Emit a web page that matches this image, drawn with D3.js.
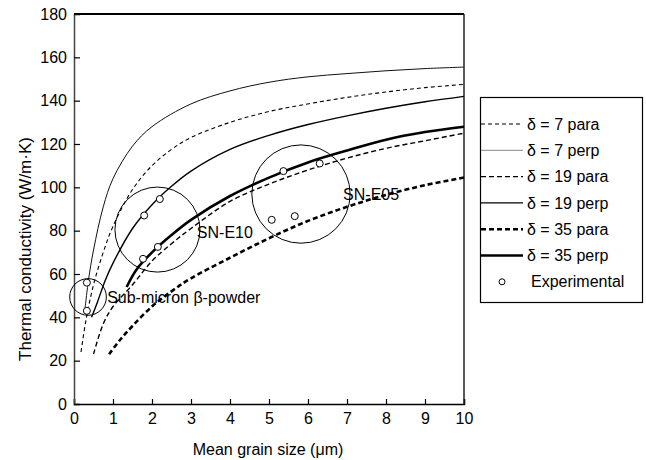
<!doctype html>
<html>
<head>
<script src="https://d3js.org/d3.v7.min.js"></script>
<style>
  body { margin: 0; background: #fff; }
  text { font-family: "Liberation Sans", Arial, sans-serif; fill: #000; }
</style>
</head>
<body>
<svg width="646" height="460"></svg>
<script>
// series values (grain size in um, conductivity in W/m.K)
var d7paraX  = [0.18, 0.3, 0.5, 0.75, 1, 1.5, 2, 2.5, 3, 4, 5, 6, 7, 8, 9, 10];
var d7paraY  = [24, 38, 55, 70, 82, 99, 110, 117.5, 123, 130, 135, 138.5, 141.5, 144, 146, 147.5];
var d7perpX  = [0.27, 0.37, 0.5, 0.75, 1, 1.5, 2, 3, 4, 5, 6, 7, 8, 9, 10];
var d7perpY  = [42, 57, 71, 91, 104, 119, 128, 138.5, 144.5, 148.5, 151, 152.5, 153.8, 154.8, 155.5];
var d19paraX = [0.5, 0.75, 1, 1.5, 2, 2.5, 3, 4, 5, 6, 7, 8, 9, 10];
var d19paraY = [23, 37, 45, 55, 66, 74, 81, 93.5, 101.5, 108, 113.5, 118, 121.5, 125];
var d19perpX = [0.45, 0.6, 0.8, 1, 1.5, 2, 2.5, 3, 4, 5, 6, 7, 8, 9, 10];
var d19perpY = [40, 47, 57, 65, 81, 92, 100.5, 107.5, 117.5, 124, 129, 133, 136.5, 139.5, 142];
var d35paraX = [0.9, 1.2, 1.5, 2, 2.5, 3, 4, 5, 6, 7, 8, 9, 10];
var d35paraY = [23, 30, 36, 45, 52, 58, 67.5, 76.5, 84.5, 91, 96.5, 101, 104.5];
var d35perpX = [1.35, 1.6, 2, 2.5, 3, 4, 5, 6, 7, 8, 9, 10];
var d35perpY = [54, 62, 70, 78, 85, 96, 104.5, 111.5, 117, 122, 125.5, 128];

var expX = [0.33, 0.33, 1.8, 2.2, 1.77, 2.15, 5.07, 5.66, 5.37, 6.3];
var expY = [56, 43, 87, 94.6, 67, 72.5, 85, 86.7, 107.5, 111];

var seriesNames = ["δ = 7 para", "δ = 7 perp", "δ = 19 para", "δ = 19 perp", "δ = 35 para", "δ = 35 perp"];

// sample groups: label, circle centre and radius (in grain-size units)
var groupNames = ["Sub-micron β-powder", "SN-E10", "SN-E05"];
var groupCx = [0.36, 2.14, 5.82];
var groupCy = [49.4, 80.5, 96.9];
var groupR  = [0.47, 1.09, 1.26];
var groupLabelX = [0.85, 3.15, 6.9];
var groupLabelY = [46.6, 76.6, 94];

var xTicks = [0, 1, 2, 3, 4, 5, 6, 7, 8, 9, 10];
var yTicks = [0, 20, 40, 60, 80, 100, 120, 140, 160, 180];

var styles = [
  { w: 1.1, dash: "4,3", color: "#000", legendColor: "#000" },
  { w: 1, dash: null, color: "#111", legendColor: "#888" },
  { w: 1.4, dash: "5,3", color: "#000", legendColor: "#000" },
  { w: 1.4, dash: null, color: "#000", legendColor: "#000" },
  { w: 2.6, dash: "5,3", color: "#000", legendColor: "#000" },
  { w: 2.6, dash: null, color: "#000", legendColor: "#000" }
];

var xs = [d7paraX, d7perpX, d19paraX, d19perpX, d35paraX, d35perpX];
var ys = [d7paraY, d7perpY, d19paraY, d19perpY, d35paraY, d35perpY];

var svg = d3.select("svg");

var x = d3.scaleLinear().domain([0, 10]).range([74, 464]);
var y = d3.scaleLinear().domain([0, 180]).range([404, 14]);

// axes with inward ticks
var gx = svg.append("g").attr("transform", "translate(0," + y(0) + ")")
  .call(d3.axisBottom(x).tickValues(xTicks).tickSize(-5).tickPadding(9).tickFormat(d3.format("d")));
var gy = svg.append("g").attr("transform", "translate(" + x(0) + ",0)")
  .call(d3.axisLeft(y).tickValues(yTicks).tickSize(-6).tickPadding(7));
gx.select(".domain").attr("stroke", "#000").attr("stroke-width", 1.5);
gy.select(".domain").attr("stroke", "#444").attr("stroke-width", 1.5);
gx.selectAll(".tick line").attr("stroke-width", 1.2);
gy.selectAll(".tick line").attr("stroke-width", 1.2);
gx.selectAll("text").attr("font-size", 16).attr("font-family", "Liberation Sans, Arial, sans-serif");
gy.selectAll("text").attr("font-size", 16).attr("font-family", "Liberation Sans, Arial, sans-serif");

// top and right frame
svg.append("line").attr("x1", x(0)).attr("x2", x(10)).attr("y1", y(180)).attr("y2", y(180))
  .attr("stroke", "#000").attr("stroke-width", 2.2);
svg.append("line").attr("x1", x(10)).attr("x2", x(10)).attr("y1", y(180)).attr("y2", y(0))
  .attr("stroke", "#222").attr("stroke-width", 1.5);

// axis titles
svg.append("text").attr("x", 268).attr("y", 455).attr("text-anchor", "middle")
  .attr("font-size", 16).text("Mean grain size (μm)");
svg.append("text").attr("transform", "translate(31,249) rotate(-90)").attr("text-anchor", "middle")
  .attr("font-size", 17).text("Thermal conductivity (W/m·K)");

// model curves
var line = d3.line().x(function(d) { return x(d[0]); }).y(function(d) { return y(d[1]); })
  .curve(d3.curveCatmullRom.alpha(0.5));

seriesNames.forEach(function(name, i) {
  var pts = xs[i].map(function(v, j) { return [v, ys[i][j]]; });
  svg.append("path").datum(pts).attr("d", line)
    .attr("fill", "none").attr("stroke", styles[i].color)
    .attr("stroke-width", styles[i].w)
    .attr("stroke-dasharray", styles[i].dash);
});

// group circles and labels
groupNames.forEach(function(name, i) {
  svg.append("circle").attr("cx", x(groupCx[i])).attr("cy", y(groupCy[i]))
    .attr("r", x(groupR[i]) - x(0))
    .attr("fill", "none").attr("stroke", "#000").attr("stroke-width", 1);
  svg.append("text").attr("x", x(groupLabelX[i])).attr("y", y(groupLabelY[i]))
    .attr("font-size", 16).text(name);
});

// experimental points
svg.selectAll(".exp").data(expX).enter().append("circle")
  .attr("class", "exp")
  .attr("cx", function(d) { return x(d); })
  .attr("cy", function(d, i) { return y(expY[i]); })
  .attr("r", 3.5).attr("fill", "#fff").attr("stroke", "#000").attr("stroke-width", 1);

// legend
var lg = svg.append("g");
lg.append("rect").attr("x", 480.5).attr("y", 97.5).attr("width", 162).attr("height", 205)
  .attr("fill", "#fff").attr("stroke", "#000").attr("stroke-width", 1.2);
var rowY = function(i) { return 124 + i * 26.3; };
seriesNames.forEach(function(name, i) {
  lg.append("line").attr("x1", 481).attr("x2", 523).attr("y1", rowY(i)).attr("y2", rowY(i))
    .attr("stroke", styles[i].legendColor)
    .attr("stroke-width", styles[i].w)
    .attr("stroke-dasharray", styles[i].dash);
  lg.append("text").attr("x", 527).attr("y", rowY(i)).attr("dy", "0.35em")
    .attr("font-size", 16).text(name);
});
lg.append("circle").attr("cx", 502).attr("cy", rowY(6)).attr("r", 3)
  .attr("fill", "#fff").attr("stroke", "#000").attr("stroke-width", 1);
lg.append("text").attr("x", 531).attr("y", rowY(6)).attr("dy", "0.35em")
  .attr("font-size", 16).text("Experimental");
</script>
</body>
</html>
